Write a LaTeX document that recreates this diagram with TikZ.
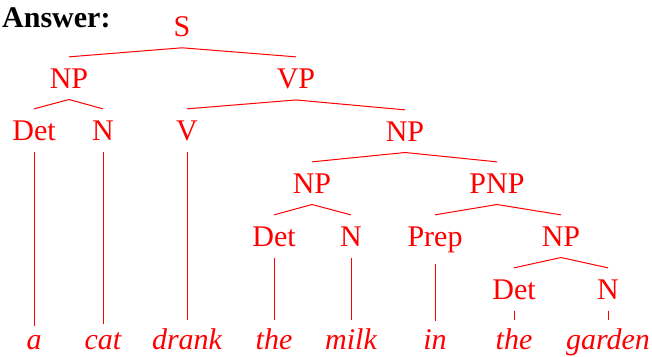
\documentclass[tikz,border=0pt]{standalone}
\usepackage{fontspec}
\setmainfont{Liberation Serif}
\begin{document}
\begin{tikzpicture}[x=1pt,y=-1pt,
  cat/.style={text=red,font=\fontsize{30}{36}\selectfont,anchor=base,
              inner xsep=0pt,inner ysep=11.5pt,outer sep=0pt},
  word/.style={cat,font=\fontsize{30}{36}\selectfont\itshape,inner ysep=9pt},
  branch/.style={draw=red,line width=1pt}]
\useasboundingbox (0,0) rectangle (652,356);

\node[anchor=base west,inner sep=0pt,font=\fontsize{30}{36}\selectfont\bfseries] (ans) at (2,27) {Answer:};

% phrase labels
\node[cat] (s)    at (182,36)  {S};
\node[cat] (np1)  at (69,88)   {NP};
\node[cat] (vp)   at (296,88)  {VP};
\node[cat] (det1) at (34,140)  {Det};
\node[cat] (n1)   at (103,140) {N};
\node[cat] (v)    at (187,140) {V};
\node[cat] (np2)  at (405,141) {NP};
\node[cat] (np3)  at (312,193) {NP};
\node[cat] (pnp)  at (497,193) {PNP};
\node[cat] (det2) at (274,246) {Det};
\node[cat] (n2)   at (351,246) {N};
\node[cat] (prep) at (435,246) {Prep};
\node[cat] (np4)  at (561,246) {NP};
\node[cat] (det3) at (514,299) {Det};
\node[cat] (n3)   at (608,299) {N};

% words
\node[word] (w1) at (34,349.5)  {a};
\node[word] (w2) at (103,349.5) {cat};
\node[word] (w3) at (187,349.5) {drank};
\node[word] (w4) at (274,349.5) {the};
\node[word] (w5) at (351,349.5) {milk};
\node[word] (w6) at (435,349.5) {in};
\node[word] (w7) at (514,349.5) {the};
\node[word] (w8) at (608,349.5) {garden};

% branches
\foreach \p/\c in {s/np1,s/vp,np1/det1,np1/n1,vp/v,vp/np2,np2/np3,np2/pnp,
                   np3/det2,np3/n2,pnp/prep,pnp/np4,np4/det3,np4/n3,
                   det1/w1,n1/w2,v/w3,det2/w4,n2/w5,prep/w6,det3/w7,n3/w8}
  \draw[branch] (\p.south) -- (\c.north);
\end{tikzpicture}
\end{document}
